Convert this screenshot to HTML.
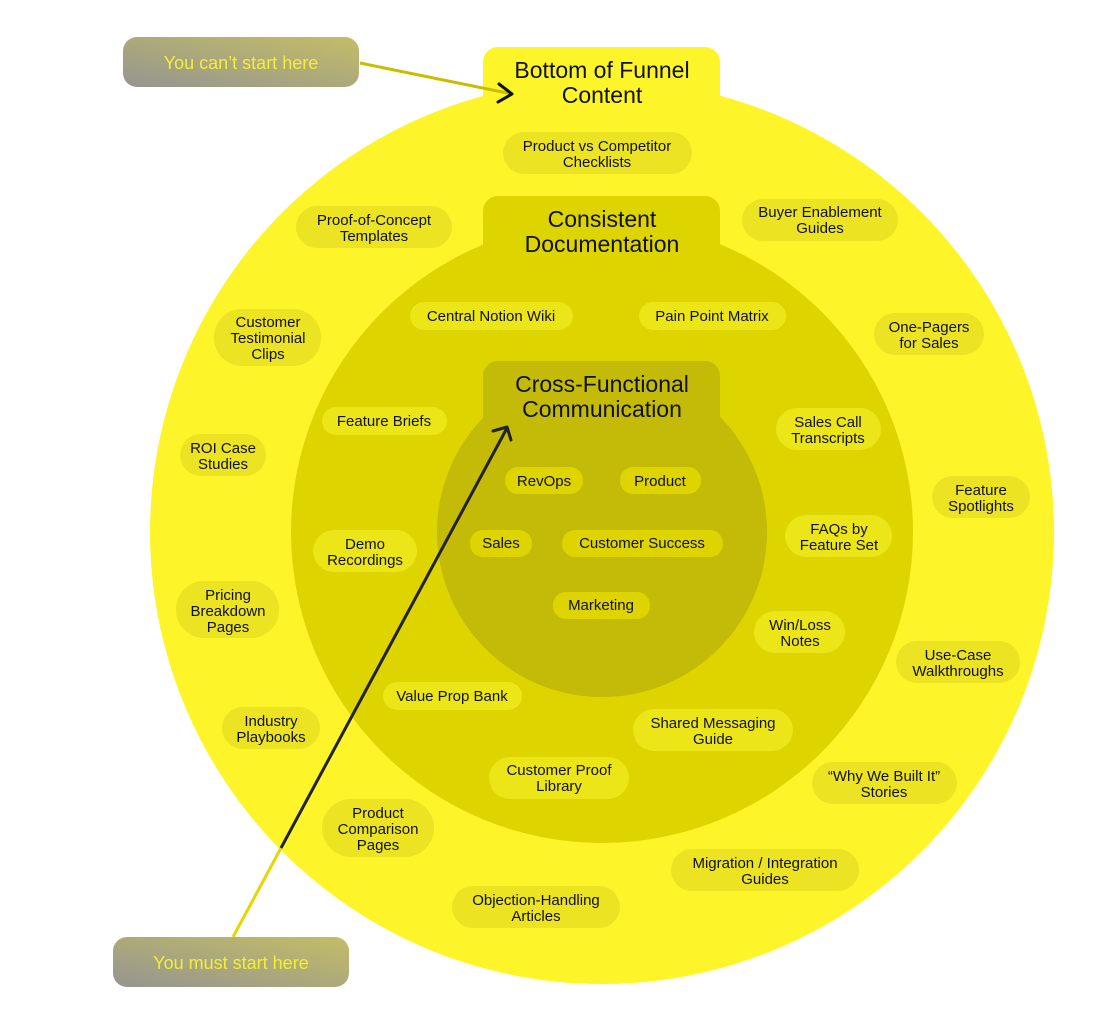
<!DOCTYPE html>
<html><head><meta charset="utf-8"><style>
html,body{margin:0;padding:0;background:#fff;}
svg{display:block;}
text{font-family:"Liberation Sans",sans-serif;fill:#111;}
.p{font-size:15px;text-anchor:middle;}
.t{font-size:23px;text-anchor:middle;}
.c{font-size:18px;text-anchor:middle;fill:#f4ee3a;}
</style></head><body>
<svg width="1119" height="1026" viewBox="0 0 1119 1026" xmlns="http://www.w3.org/2000/svg">
<defs>
<linearGradient id="g" x1="0" y1="1" x2="1" y2="0">
<stop offset="0" stop-color="#959590"/><stop offset="1" stop-color="#c4bd66"/>
</linearGradient>
</defs>
<!-- circles -->
<circle cx="602" cy="532" r="452" fill="#fdf52a"/>
<rect x="483" y="47" width="237" height="70" rx="15" fill="#fdf52a"/>
<circle cx="602" cy="532" r="311" fill="#ddd400"/>
<rect x="483" y="196" width="237" height="70" rx="15" fill="#ddd400"/>
<circle cx="602" cy="532" r="165" fill="#c4ba08"/>
<rect x="483" y="361" width="237" height="70" rx="15" fill="#c4ba08"/>

<text class="t" x="602" y="78">Bottom of Funnel</text>
<text class="t" x="602" y="103">Content</text>
<text class="t" x="602" y="227">Consistent</text>
<text class="t" x="602" y="252">Documentation</text>
<text class="t" x="602" y="392">Cross-Functional</text>
<text class="t" x="602" y="417">Communication</text>

<!-- outer pills -->
<g fill="#ece322">
<rect x="503" y="132" width="189" height="42" rx="21"/>
<rect x="296" y="206" width="156" height="42" rx="21"/>
<rect x="742" y="199" width="156" height="42" rx="21"/>
<rect x="214" y="309" width="107" height="57" rx="28"/>
<rect x="874" y="313" width="110" height="42" rx="21"/>
<rect x="180" y="434" width="86" height="42" rx="21"/>
<rect x="932" y="476" width="98" height="42" rx="21"/>
<rect x="176" y="581" width="103" height="57" rx="28"/>
<rect x="896" y="641" width="124" height="42" rx="21"/>
<rect x="222" y="707" width="98" height="42" rx="21"/>
<rect x="812" y="762" width="145" height="42" rx="21"/>
<rect x="322" y="799" width="112" height="58" rx="29"/>
<rect x="671" y="849" width="188" height="42" rx="21"/>
<rect x="452" y="886" width="168" height="42" rx="21"/>
</g>
<!-- middle pills -->
<g fill="#ece619">
<rect x="410" y="302" width="163" height="28" rx="14"/>
<rect x="639" y="302" width="147" height="28" rx="14"/>
<rect x="322" y="407" width="125" height="28" rx="14"/>
<rect x="776" y="408" width="105" height="42" rx="21"/>
<rect x="313" y="530" width="104" height="42" rx="21"/>
<rect x="785" y="515" width="107" height="42" rx="21"/>
<rect x="754" y="611" width="91" height="42" rx="21"/>
<rect x="383" y="682" width="139" height="28" rx="14"/>
<rect x="633" y="709" width="160" height="42" rx="21"/>
<rect x="489" y="757" width="140" height="42" rx="21"/>
</g>
<!-- inner pills -->
<g fill="#ddd400">
<rect x="505" y="467" width="78" height="27" rx="13"/>
<rect x="620" y="467" width="81" height="27" rx="13"/>
<rect x="470" y="530" width="62" height="27" rx="13"/>
<rect x="562" y="530" width="161" height="27" rx="13"/>
<rect x="553" y="592" width="97" height="27" rx="13"/>
</g>

<g class="p">
<text class="p" x="597" y="151">Product vs Competitor</text><text class="p" x="597" y="167">Checklists</text>
<text class="p" x="374" y="225">Proof-of-Concept</text><text class="p" x="374" y="241">Templates</text>
<text class="p" x="820" y="217">Buyer Enablement</text><text class="p" x="820" y="233">Guides</text>
<text class="p" x="268" y="327">Customer</text><text class="p" x="268" y="343">Testimonial</text><text class="p" x="268" y="359">Clips</text>
<text class="p" x="929" y="332">One-Pagers</text><text class="p" x="929" y="348">for Sales</text>
<text class="p" x="223" y="453">ROI Case</text><text class="p" x="223" y="469">Studies</text>
<text class="p" x="981" y="495">Feature</text><text class="p" x="981" y="511">Spotlights</text>
<text class="p" x="228" y="600">Pricing</text><text class="p" x="228" y="616">Breakdown</text><text class="p" x="228" y="632">Pages</text>
<text class="p" x="958" y="660">Use-Case</text><text class="p" x="958" y="676">Walkthroughs</text>
<text class="p" x="271" y="726">Industry</text><text class="p" x="271" y="742">Playbooks</text>
<text class="p" x="884" y="781">“Why We Built It”</text><text class="p" x="884" y="797">Stories</text>
<text class="p" x="378" y="818">Product</text><text class="p" x="378" y="834">Comparison</text><text class="p" x="378" y="850">Pages</text>
<text class="p" x="765" y="868">Migration / Integration</text><text class="p" x="765" y="884">Guides</text>
<text class="p" x="536" y="905">Objection-Handling</text><text class="p" x="536" y="921">Articles</text>

<text class="p" x="491" y="321">Central Notion Wiki</text>
<text class="p" x="712" y="321">Pain Point Matrix</text>
<text class="p" x="384" y="426">Feature Briefs</text>
<text class="p" x="828" y="427">Sales Call</text><text class="p" x="828" y="443">Transcripts</text>
<text class="p" x="365" y="549">Demo</text><text class="p" x="365" y="565">Recordings</text>
<text class="p" x="839" y="534">FAQs by</text><text class="p" x="839" y="550">Feature Set</text>
<text class="p" x="800" y="630">Win/Loss</text><text class="p" x="800" y="646">Notes</text>
<text class="p" x="452" y="701">Value Prop Bank</text>
<text class="p" x="713" y="728">Shared Messaging</text><text class="p" x="713" y="744">Guide</text>
<text class="p" x="559" y="775">Customer Proof</text><text class="p" x="559" y="791">Library</text>

<text class="p" x="544" y="486">RevOps</text>
<text class="p" x="660" y="486">Product</text>
<text class="p" x="501" y="548">Sales</text>
<text class="p" x="642" y="548">Customer Success</text>
<text class="p" x="601" y="610">Marketing</text>
</g>

<!-- arrows -->
<line x1="360" y1="63" x2="512" y2="94" stroke="#c9bd00" stroke-width="3"/>
<polyline points="499,84 512,94 498,102" fill="none" stroke="#111" stroke-width="3" stroke-linecap="round" stroke-linejoin="round"/>
<line x1="233" y1="937" x2="281" y2="848" stroke="#e3d800" stroke-width="3"/>
<line x1="281" y1="848" x2="507" y2="428" stroke="#222" stroke-width="3"/>
<polyline points="493,431 507,427 511,440" fill="none" stroke="#222" stroke-width="3" stroke-linecap="round" stroke-linejoin="round"/>

<!-- callouts -->
<rect x="123" y="37" width="236" height="50" rx="14" fill="url(#g)"/>
<text class="c" x="241" y="69">You can’t start here</text>
<rect x="113" y="937" width="236" height="50" rx="14" fill="url(#g)"/>
<text class="c" x="231" y="969">You must start here</text>
</svg>
</body></html>
